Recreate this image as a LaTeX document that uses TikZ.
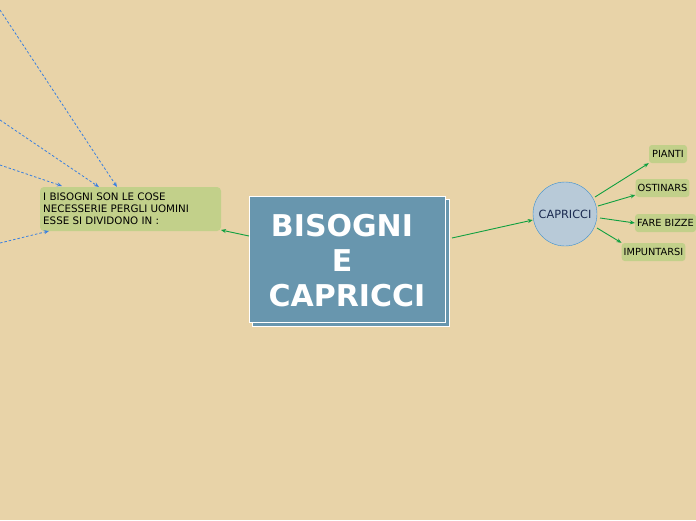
\documentclass[tikz,border=0pt]{standalone}
\usepackage{fontspec}
\setmainfont{DejaVu Sans}
\usetikzlibrary{arrows.meta}
\definecolor{bg}{HTML}{E8D3A8}
\definecolor{mainfill}{HTML}{6896AE}
\definecolor{leaf}{HTML}{C2D08A}
\definecolor{circfill}{HTML}{B8CAD8}
\definecolor{circline}{HTML}{3A8FD0}
\definecolor{navy}{HTML}{1A2A50}
\definecolor{gline}{HTML}{10A040}
\definecolor{bline}{HTML}{3A80E0}
\tikzset{
  leafbox/.style={fill=leaf, rounded corners=3pt, inner sep=2pt, minimum height=18pt, font=\fontsize{9.8}{11}\selectfont, text=black},
  garrow/.style={draw=gline, line width=0.9pt, -{Stealth[length=5pt,width=4pt]}},
  barrow/.style={draw=bline, line width=0.8pt, dash pattern=on 2.5pt off 2pt, -{Stealth[length=5pt,width=4pt]}}
}
\begin{document}
\begin{tikzpicture}[x=1pt,y=-1pt]
\fill[bg] (0,0) rectangle (696,520);
\useasboundingbox (0,0) rectangle (696,520);
% main box
\fill[white] (252,199) rectangle (450,327);
\fill[mainfill] (253,200) rectangle (449,326);
\node[draw=white, line width=1pt, fill=mainfill, minimum width=196pt, minimum height=126pt, inner sep=0pt] (main) at (347.5,259.5) {};
\node[text=white, font=\fontsize{30}{35}\selectfont\bfseries, align=center] (title) at (347,261) {BISOGNI\hbox to 10pt{}\\E\hbox to 10pt{}\\CAPRICCI};
% left node
\node[fill=leaf, rounded corners=4pt, minimum width=181pt, minimum height=44pt, inner sep=0pt] (left) at (130.5,209) {};
\node[anchor=north west, align=left, font=\fontsize{10.3}{12}\selectfont, inner sep=0pt] (lefttext) at (43,193) {I BISOGNI SON LE COSE\\NECESSERIE PERGLI UOMINI\\ESSE SI DIVIDONO IN :};
% circle
\node[circle, draw=circline, fill=circfill, minimum size=64pt, inner sep=0pt, text=navy, font=\fontsize{11.3}{12}\selectfont] (capr) at (565,214) {CAPRICCI};
% leaves
\node[leafbox, minimum width=38pt] (pianti) at (668,154) {PIANTI};
\node[leafbox, minimum width=51pt] (ostinars) at (662.5,188) {OSTINARS};
\node[leafbox, minimum width=56pt] (fare) at (665.5,223) {FARE BIZZE};
\node[leafbox, minimum width=63pt] (impun) at (653.5,252) {IMPUNTARSI};
% green connectors
\draw[garrow] (main.west |- 0,236) -- (221,230);
\draw[garrow] (452,238) -- (capr.west |- 0,220);
\draw[garrow] (595,197) -- (pianti.south west);
\draw[garrow] (598,206) -- (ostinars.west |- 0,195);
\draw[garrow] (600,218) -- (fare.west);
\draw[garrow] (597,228) -- (impun.north west);
% blue dashed connectors
\coordinate (b1) at (0,10);
\coordinate (b2) at (0,120);
\coordinate (b3) at (0,165);
\coordinate (b4) at (0,243);
\draw[barrow] (b1) -- (117,187);
\draw[barrow] (b2) -- (99,187);
\draw[barrow] (b3) -- (62,186);
\draw[barrow] (b4) -- (49,231);
\end{tikzpicture}
\end{document}
